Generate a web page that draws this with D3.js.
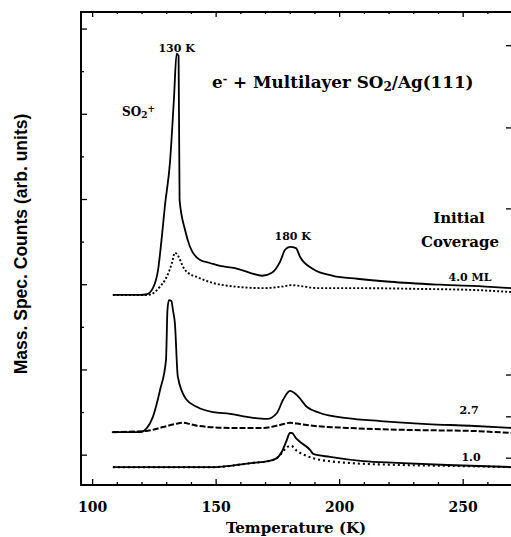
<!DOCTYPE html>
<html>
<head>
<meta charset="utf-8">
<script src="https://cdn.jsdelivr.net/npm/d3@7"></script>
<style>
  body { margin: 0; background: #fff; }
  svg { display: block; }
  .serif { font-family: "DejaVu Serif", "Liberation Serif", serif; font-weight: bold; fill: #000; }
  .sans { font-family: "Liberation Sans", Arial, sans-serif; font-weight: bold; fill: #000; }
</style>
</head>
<body>
<svg id="chart" width="511" height="537"></svg>
<script>
// temperatures (K) and counts (arb. units)
var t40 = [108.2, 119.2, 122.0, 124.4, 126.5, 128.1, 129.3, 131.3, 132.9, 134.0, 134.8, 135.2, 137.4, 139.4, 143.5, 147.5, 151.6, 157.6, 163.7, 168.6, 172.6, 175.9, 177.9, 179.9, 182.3, 184.0, 189.2, 197.3, 207.1, 220.4, 240.7, 260.9, 269.4];
var c40 = [4.46, 4.46, 4.48, 4.62, 5.05, 5.87, 6.57, 7.56, 9.04, 10.12, 10.07, 6.69, 5.99, 5.59, 5.28, 5.21, 5.14, 5.09, 4.98, 4.91, 4.98, 5.24, 5.52, 5.59, 5.56, 5.35, 5.07, 4.91, 4.84, 4.77, 4.70, 4.65, 4.62];

var t40b = [108.2, 122.4, 125.2, 127.2, 129.3, 130.5, 132.1, 133.3, 134.6, 135.4, 136.6, 138.6, 142.3, 148.7, 155.6, 168.9, 175.9, 180.7, 184.0, 190.9, 207.1, 233.8, 252.8, 269.4];
var c40b = [4.46, 4.46, 4.53, 4.65, 4.81, 4.95, 5.21, 5.45, 5.38, 5.28, 5.12, 4.98, 4.88, 4.74, 4.67, 4.62, 4.65, 4.69, 4.67, 4.62, 4.62, 4.60, 4.58, 4.53];

var t27 = [107.8, 119.2, 122.0, 124.4, 127.3, 129.7, 130.3, 130.9, 131.9, 132.5, 133.3, 134.5, 137.8, 142.3, 148.7, 155.6, 162.5, 170.6, 174.6, 177.1, 179.9, 182.7, 186.8, 192.0, 203.0, 216.4, 235.4, 252.8, 269.4];
var c27 = [1.24, 1.24, 1.34, 1.60, 2.23, 2.93, 4.11, 4.34, 4.32, 4.11, 3.80, 2.54, 2.02, 1.83, 1.71, 1.67, 1.60, 1.55, 1.69, 2.00, 2.21, 2.11, 1.83, 1.69, 1.57, 1.50, 1.43, 1.39, 1.34];

var t27b = [108.2, 122.0, 128.5, 133.3, 136.6, 139.4, 142.3, 155.6, 169.0, 175.9, 179.9, 184.0, 189.2, 203.0, 229.7, 252.8, 269.4];
var c27b = [1.24, 1.27, 1.36, 1.43, 1.46, 1.43, 1.39, 1.34, 1.34, 1.41, 1.46, 1.43, 1.39, 1.34, 1.29, 1.27, 1.22];

var t10 = [108.2, 148.7, 155.6, 164.9, 171.0, 174.6, 176.6, 178.3, 179.9, 180.7, 182.3, 184.0, 188.1, 189.3, 196.1, 209.5, 223.2, 243.5, 269.4];
var c10 = [0.42, 0.42, 0.45, 0.52, 0.56, 0.63, 0.78, 1.01, 1.22, 1.22, 1.10, 1.01, 0.82, 0.73, 0.66, 0.56, 0.52, 0.47, 0.42];

var t10b = [108.2, 148.7, 164.9, 171.0, 174.6, 176.6, 178.3, 180.3, 182.7, 186.0, 189.2, 203.0, 224.5, 243.5, 269.4];
var c10b = [0.42, 0.42, 0.52, 0.56, 0.63, 0.75, 0.87, 0.92, 0.80, 0.70, 0.63, 0.52, 0.47, 0.45, 0.42];

var xMajor = [100, 150, 200, 250];
var coverage = ["4.0 ML", "2.7", "1.0"];
var rightTicks = [10.31, 8.38, 6.48, 2.58, 1.60, 0.63];

var svg = d3.select("#chart");

var x = d3.scaleLinear().domain([95.3, 273]).range([81, 520]);
var y = d3.scaleLinear().domain([0, 11.1]).range([485, 12]);

function zip(ts, cs) {
    return ts.map(function(t, i) { return [t, cs[i]]; });
}

var line = d3.line()
    .x(function(d) { return x(d[0]); })
    .y(function(d) { return y(d[1]); })
    .curve(d3.curveMonotoneX);

// frame and ticks
var minorX = d3.range(100, 271, 10);
var leftTicks = d3.range(0, 11).map(function(k) { return 0.7 + k; });

var axisG = svg.append("g").attr("stroke", "#000").attr("fill", "none");
axisG.append("path")
    .attr("d", "M" + x(273) + "," + y(11.1) + "H" + x(95.3) + "V" + y(0) + "H" + x(273))
    .attr("stroke-width", 2);

axisG.selectAll(".bt").data(minorX).enter().append("line")
    .attr("x1", function(d) { return x(d); }).attr("x2", function(d) { return x(d); })
    .attr("y1", y(0))
    .attr("y2", function(d) { return y(0) - (d % 50 === 0 ? 6 : 3); })
    .attr("stroke-width", 1.3);

axisG.selectAll(".tt").data(minorX).enter().append("line")
    .attr("x1", function(d) { return x(d); }).attr("x2", function(d) { return x(d); })
    .attr("y1", y(11.1))
    .attr("y2", function(d) { return y(11.1) + (d % 50 === 0 ? 5 : 2); })
    .attr("stroke-width", 1.3);

axisG.selectAll(".lt").data(leftTicks).enter().append("line")
    .attr("x1", x(95.3))
    .attr("x2", function(d, i) { return x(95.3) + (i % 2 === 0 ? 6 : 3); })
    .attr("y1", function(d) { return y(d); }).attr("y2", function(d) { return y(d); })
    .attr("stroke-width", 1.3);

axisG.selectAll(".rt").data(rightTicks).enter().append("line")
    .attr("x1", 513).attr("x2", 506)
    .attr("y1", function(d) { return y(d); }).attr("y2", function(d) { return y(d); })
    .attr("stroke-width", 1.3);

// tick labels
svg.selectAll(".xl").data(xMajor).enter().append("text")
    .attr("class", "serif")
    .attr("x", function(d) { return x(d); })
    .attr("y", 512)
    .attr("text-anchor", "middle")
    .style("font-size", "14px")
    .text(function(d) { return d; });

svg.append("text").attr("class", "serif")
    .attr("x", 296).attr("y", 533)
    .attr("text-anchor", "middle")
    .style("font-size", "15px")
    .text("Temperature (K)");

svg.append("text").attr("class", "sans")
    .attr("transform", "translate(27,244) rotate(-90)")
    .attr("text-anchor", "middle")
    .style("font-size", "17.5px")
    .text("Mass. Spec. Counts (arb. units)");

// traces
var traces = [
    { d: zip(t40, c40), dash: null, w: 1.8 },
    { d: zip(t40b, c40b), dash: "2,2", w: 1.9 },
    { d: zip(t27, c27), dash: null, w: 1.8 },
    { d: zip(t27b, c27b), dash: "6,2", w: 2 },
    { d: zip(t10, c10), dash: null, w: 1.9 },
    { d: zip(t10b, c10b), dash: "2,3", w: 2.1 }
];

svg.append("g").selectAll("path").data(traces).enter().append("path")
    .attr("d", function(d) { return line(d.d); })
    .attr("fill", "none")
    .attr("stroke", "#000")
    .attr("stroke-width", function(d) { return d.w; })
    .attr("stroke-dasharray", function(d) { return d.dash; });

// annotations
function label(txt, xp, yp, size, anchor) {
    return svg.append("text").attr("class", "serif")
        .attr("x", xp).attr("y", yp)
        .attr("text-anchor", anchor || "middle")
        .style("font-size", size + "px")
        .text(txt);
}

label("130 K", x(134), 52, 11);
label("180 K", x(181), 240, 11);
label("Initial", 459, 223, 15);
label("Coverage", 460, 247, 15);
label(coverage[0], 470, 281, 11);
label(coverage[1], 469, 414, 11);
label(coverage[2], 471, 461, 11);

var so2 = svg.append("text").attr("class", "serif")
    .attr("x", 122).attr("y", 116)
    .style("font-size", "12px");
so2.append("tspan").text("SO");
so2.append("tspan").attr("baseline-shift", "-25%").style("font-size", "9px").text("2");
so2.append("tspan").attr("baseline-shift", "40%").style("font-size", "9px").text("+");

var title = svg.append("text").attr("class", "serif")
    .attr("x", 212).attr("y", 88)
    .style("font-size", "16.8px");
title.append("tspan").text("e");
title.append("tspan").attr("baseline-shift", "45%").style("font-size", "11px").text("-");
title.append("tspan").text(" + Multilayer SO");
title.append("tspan").attr("baseline-shift", "-25%").style("font-size", "12px").text("2");
title.append("tspan").text("/Ag(111)");
</script>
</body>
</html>
